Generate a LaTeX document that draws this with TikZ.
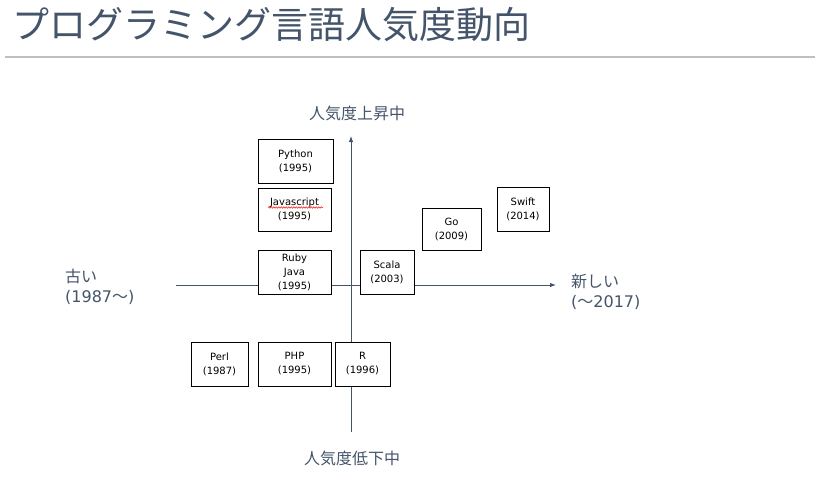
\documentclass[tikz,border=0pt]{standalone}
\usepackage{fontspec}
\setmainfont{Noto Sans CJK JP}
\newfontfamily\latinfont{DejaVu Sans}
\usepackage{tikz}
\usetikzlibrary{arrows.meta,decorations.pathmorphing}
\usepackage{xcolor}
\definecolor{slate}{HTML}{44546A}

\begin{document}
\begin{tikzpicture}[x=1pt,y=-1pt]
  \tikzset{langbox/.style={draw=black,fill=white,line width=0.8pt,minimum height=44,inner sep=0pt,align=center,font=\latinfont\fontsize{10}{14}\selectfont,text=black}}
  \tikzset{axisline/.style={draw=slate,line width=0.9pt}}
  \tikzset{axislabel/.style={font=\fontsize{16}{20}\selectfont,text=slate,inner sep=0pt}}
  \useasboundingbox (0,0) rectangle (820,488);
  % title
  \node[anchor=west,inner sep=0pt,text=slate,font=\fontsize{37}{40}\selectfont] (title) at (12,25) {プログラミング言語人気度動向};
  \draw[gray!50,line width=1.5pt] (5,57) -- (815,57);
  % axes
  \coordinate (xl) at (176,285);
  \coordinate (xr) at (556,285);
  \coordinate (yb) at (351,432);
  \coordinate (yt) at (351,136);
  \draw[axisline,-{Latex[length=6pt,width=4.5pt]}] (xl) -- (xr);
  \draw[axisline,-{Latex[length=6pt,width=4.5pt]}] (yb) -- (yt);
  \node[axislabel] (up) at (357,113) {人気度上昇中};
  \node[axislabel] (down) at (352,458) {人気度低下中};
  \node[axislabel,anchor=west,align=left] (old) at (65,287) {古い\\{\latinfont(1987}～{\latinfont)}};
  \node[axislabel,anchor=west,align=left] (new) at (571,292) {新しい\\{\latinfont(}～{\latinfont2017)}};
  % languages
  \node[langbox,minimum width=75] (python) at (295.5,161) {Python\\(1995)};
  \node[langbox,minimum width=73,minimum height=43] (js) at (294.5,209.5) {Javascript\\(1995)};
  \draw[red,line width=0.5pt,decorate,decoration={snake,amplitude=0.7,segment length=2.5}] (268,207.5) -- (323,207.5);
  \node[langbox,minimum width=73] (ruby) at (294.5,272) {Ruby\\Java\\(1995)};
  \node[langbox,minimum width=54] (scala) at (387,272) {Scala\\(2003)};
  \node[langbox,minimum width=59,minimum height=42] (go) at (451.5,229) {Go\\(2009)};
  \node[langbox,minimum width=52] (swift) at (523,209) {Swift\\(2014)};
  \node[langbox,minimum width=57] (perl) at (219.5,364) {Perl\\(1987)};
  \node[langbox,minimum width=73] (php) at (294.5,364) {PHP\\(1995)};
  \node[langbox,minimum width=55] (r) at (362.5,364) {R\\(1996)};
\end{tikzpicture}
\end{document}
